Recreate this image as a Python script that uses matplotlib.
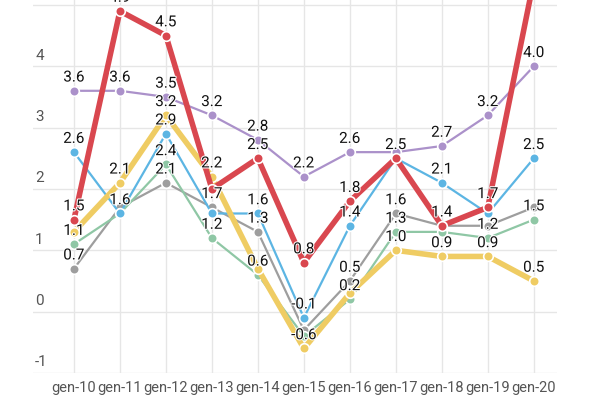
import matplotlib.pyplot as plt
import matplotlib.transforms as mtransforms
import matplotlib.patheffects as pe

plt.rcParams['font.family'] = ['Roboto', 'DejaVu Sans']

categories = ['gen-10', 'gen-11', 'gen-12', 'gen-13', 'gen-14', 'gen-15',
              'gen-16', 'gen-17', 'gen-18', 'gen-19', 'gen-20']

gray = [0.7, 1.7, 2.1, 1.7, 1.3, -0.3, 0.5, 1.6, 1.4, 1.4, 1.7]
green = [1.1, 1.6, 2.4, 1.2, 0.6, -0.4, 0.2, 1.3, 1.3, 1.2, 1.5]
blue = [2.6, 1.6, 2.9, 1.6, 1.6, -0.1, 1.4, 2.5, 2.1, 1.6, 2.5]
purple = [3.6, 3.6, 3.5, 3.2, 2.8, 2.2, 2.6, 2.6, 2.7, 3.2, 4.0]
yellow = [1.3, 2.1, 3.2, 2.2, 0.7, -0.6, 0.3, 1.0, 0.9, 0.9, 0.5]
red = [1.5, 4.9, 4.5, 2.0, 2.5, 0.8, 1.8, 2.5, 1.4, 1.7, 5.4]

# which value labels survive the overlap check in the original
gray_lab = [1, 0, 1, 1, 1, 0, 1, 1, 0, 0, 0]
green_lab = [1, 0, 1, 1, 1, 0, 1, 1, 0, 1, 1]
blue_lab = [1, 1, 1, 0, 1, 1, 1, 0, 1, 0, 1]
purple_lab = [1, 1, 1, 1, 1, 1, 1, 0, 1, 1, 1]
yellow_lab = [0, 1, 1, 1, 0, 1, 0, 1, 1, 1, 1]
red_lab = [1, 1, 1, 0, 1, 1, 1, 1, 1, 1, 0]

yticks = [-1, 0, 1, 2, 3, 4, 5]

series = [
    (gray, gray_lab, '#9e9e9e', 1.6),
    (green, green_lab, '#8fc7a5', 1.6),
    (blue, blue_lab, '#5cb5e3', 1.6),
    (purple, purple_lab, '#ab91ca', 1.6),
    (yellow, yellow_lab, '#efcc63', 4),
    (red, red_lab, '#d9474f', 4),
]

fig = plt.figure(figsize=(6, 4), dpi=100)
ax = fig.add_axes([0.055, 0.0675, 0.873, 0.9325])
x = list(range(len(categories)))

for i, (vals, labs, col, lw) in enumerate(series):
    ax.plot(x, vals, color=col, lw=lw, solid_capstyle='round',
            solid_joinstyle='round', zorder=3 + i, clip_on=True)
    ax.scatter(x, vals, s=48, color=col, edgecolor='white', linewidth=1.2,
               zorder=3 + i + 0.5, clip_on=True)
    for xi, v, show in zip(x, vals, labs):
        if show and v < 5.0:
            ax.annotate(f'{v:.1f}', (xi, v), xytext=(0, 4.5),
                        textcoords='offset points', ha='center', va='bottom',
                        fontsize=11, color='#111111', zorder=20,
                        path_effects=[pe.withStroke(linewidth=1.5, foreground='white')])

ax.set_xlim(-0.89, 10.5)
ax.set_ylim(-1, 5.08)
ax.set_xticks(x)
ax.set_xticklabels(categories, fontsize=10.5, color='#555555')
ax.set_yticks(yticks)
ax.set_yticklabels([])
ax.tick_params(length=0, pad=6)
ax.grid(True, color='#e6e6e6', lw=1)
ax.set_axisbelow(True)
for s in ax.spines.values():
    s.set_visible(False)

trans = mtransforms.blended_transform_factory(ax.transAxes, ax.transData)
for t in yticks:
    ax.text(0.004, t + 0.06, str(t), transform=trans, ha='left', va='bottom',
            fontsize=11, color='#555555')

fig.savefig('out.png', dpi=100)
